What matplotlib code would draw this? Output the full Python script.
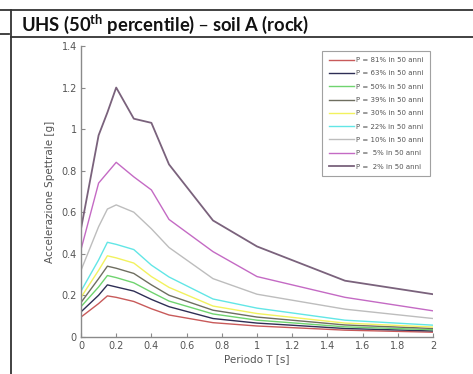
"""
UHS (50th percentile) - soil A (rock): spectral acceleration vs period
for nine exceedance probabilities in 50 years.
"""

import matplotlib
matplotlib.use('Agg')
import matplotlib.pyplot as plt
from matplotlib.lines import Line2D
from matplotlib.ticker import FuncFormatter

# ─────────────────────────────────────────────────────────────────────
# Data
# ─────────────────────────────────────────────────────────────────────

PERIODS = [0, 0.1, 0.15, 0.2, 0.3, 0.4, 0.5, 0.75, 1.0, 1.5, 2.0]

SA_81 = [0.095, 0.16, 0.197, 0.19, 0.17, 0.135, 0.105, 0.068, 0.052, 0.032, 0.022]
SA_63 = [0.12, 0.2, 0.25, 0.24, 0.22, 0.18, 0.145, 0.088, 0.066, 0.040, 0.028]
SA_50 = [0.145, 0.24, 0.295, 0.285, 0.26, 0.215, 0.172, 0.11, 0.08, 0.048, 0.034]
SA_39 = [0.165, 0.28, 0.34, 0.33, 0.305, 0.25, 0.20, 0.128, 0.095, 0.057, 0.040]
SA_30 = [0.19, 0.32, 0.39, 0.38, 0.355, 0.29, 0.238, 0.148, 0.112, 0.066, 0.047]
SA_22 = [0.22, 0.37, 0.455, 0.445, 0.42, 0.345, 0.288, 0.182, 0.138, 0.080, 0.056]
SA_10 = [0.32, 0.53, 0.615, 0.635, 0.60, 0.52, 0.43, 0.28, 0.205, 0.133, 0.088]
SA_5 = [0.42, 0.74, 0.79, 0.84, 0.77, 0.707, 0.565, 0.41, 0.29, 0.19, 0.125]
SA_2 = [0.52, 0.97, 1.08, 1.20, 1.05, 1.03, 0.83, 0.56, 0.435, 0.27, 0.205]

SERIES = [SA_81, SA_63, SA_50, SA_39, SA_30, SA_22, SA_10, SA_5, SA_2]
LABELS = [
    'P = 81% in 50 anni',
    'P = 63% in 50 anni',
    'P = 50% in 50 anni',
    'P = 39% in 50 anni',
    'P = 30% in 50 anni',
    'P = 22% in 50 anni',
    'P = 10% in 50 anni',
    'P =  5% in 50 anni',
    'P =  2% in 50 anni',
]
COLORS = ['#c85a5a', '#2e2e55', '#6fd46f', '#6e6e60', '#f2f25e',
          '#62e6e6', '#bdbdbd', '#c46ac4', '#7a627c']

TITLE = 'UHS (50$^{\\mathregular{th}}$ percentile) \u2013 soil A (rock)'

# ─────────────────────────────────────────────────────────────────────
# Figure
# ─────────────────────────────────────────────────────────────────────

W, H = 473, 374
fig = plt.figure(figsize=(W / 100, H / 100), dpi=100)
fig.patch.set_facecolor('white')

# table frame of the document the chart sits in
def fx(px):
    return px / W

def fy(py):
    return 1 - py / H

frame_kw = dict(color='#333333', linewidth=1.3, transform=fig.transFigure)
fig.add_artist(Line2D([0, 1], [fy(10), fy(10)], **frame_kw))
fig.add_artist(Line2D([fx(11), 1], [fy(37), fy(37)], **frame_kw))
fig.add_artist(Line2D([0, fx(9)], [fy(34), fy(34)], **frame_kw))
fig.add_artist(Line2D([fx(10.5), fx(10.5)], [fy(10), 0], **frame_kw))

fig.text(fx(21), fy(24), TITLE, fontsize=13.2, fontweight='bold',
         family='Lato', va='center', ha='left', color='#111111')

ax = fig.add_axes([81 / W, 1 - 336.8 / H, (433 - 81) / W, (336.8 - 46) / H])

for vals, lab, col in zip(SERIES, LABELS, COLORS):
    lw = 1.3 if col == '#7a627c' else 1.0
    ax.plot(PERIODS, vals, color=col, linewidth=lw, label=lab)

ax.set_xlim(0, 2)
ax.set_ylim(0, 1.4)
ax.set_xticks([0, 0.2, 0.4, 0.6, 0.8, 1, 1.2, 1.4, 1.6, 1.8, 2])
ax.set_yticks([0, 0.2, 0.4, 0.6, 0.8, 1, 1.2, 1.4])
fmt = FuncFormatter(lambda v, _: f'{v:g}')
ax.xaxis.set_major_formatter(fmt)
ax.yaxis.set_major_formatter(fmt)

for side in ('top', 'right'):
    ax.spines[side].set_visible(False)
for side in ('left', 'bottom'):
    ax.spines[side].set_color('#8a8a8a')
    ax.spines[side].set_linewidth(1.0)
ax.tick_params(direction='in', length=3, width=0.8, color='#8a8a8a',
               labelsize=7, labelcolor='#555555', pad=3)

ax.set_xlabel('Periodo T [s]', fontsize=7.5, color='#555555', labelpad=2)
ax.set_ylabel('Accelerazione Spettrale [g]', fontsize=7.5, color='#555555',
              labelpad=5)

leg = ax.legend(loc='upper right', bbox_to_anchor=(1.0, 0.995), fontsize=5,
                frameon=True, fancybox=False, handlelength=3.6,
                handletextpad=0.3, labelspacing=1.05, borderpad=0.9,
                labelcolor='#555555')
leg.get_frame().set_edgecolor('#8a8a8a')
leg.get_frame().set_linewidth(0.8)

fig.savefig('out.png', dpi=100)
